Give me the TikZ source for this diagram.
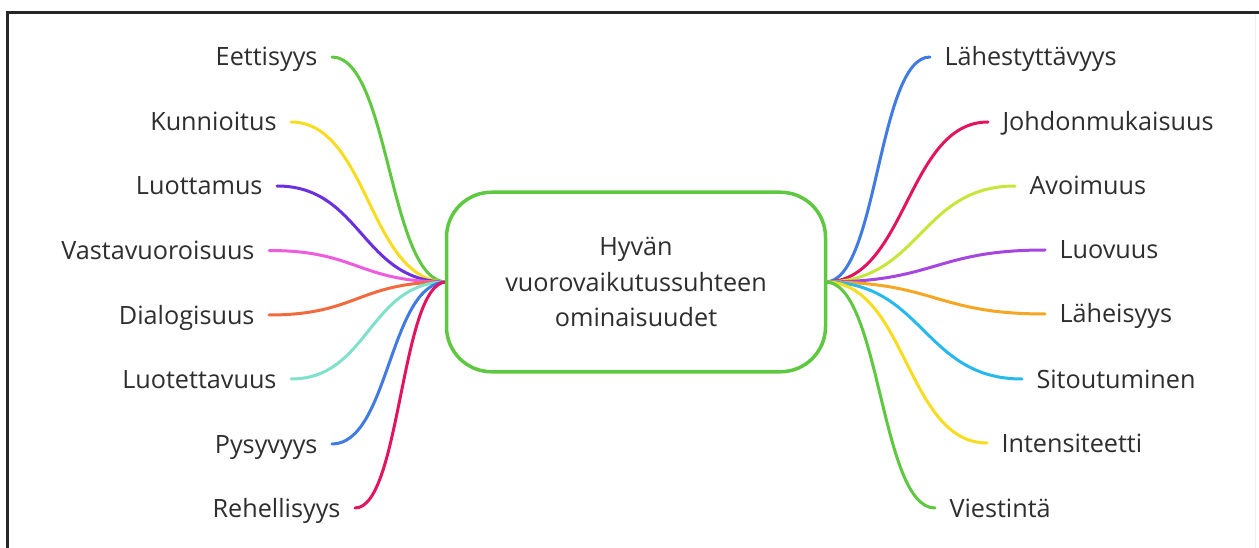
\documentclass[tikz,border=0pt]{standalone}
\usepackage{fontspec}
\setmainfont{Open Sans}
\usetikzlibrary{calc}
\definecolor{txt}{HTML}{2E2E2E}
\definecolor{cgreen}{HTML}{5EC840}
\definecolor{cyellow}{HTML}{F7DC1F}
\definecolor{cpurple}{HTML}{6A30E0}
\definecolor{cpink}{HTML}{EE5BDC}
\definecolor{corange}{HTML}{F06A3E}
\definecolor{caqua}{HTML}{7FE0CB}
\definecolor{cblue}{HTML}{3F7BE0}
\definecolor{ccrimson}{HTML}{E2145F}
\definecolor{clime}{HTML}{C8E63A}
\definecolor{cviolet}{HTML}{A745E0}
\definecolor{camber}{HTML}{F5A623}
\definecolor{csky}{HTML}{27B9EC}
\tikzset{
  lbl/.style={text=txt, font=\fontsize{25.2}{29}\selectfont, inner xsep=14.5pt, inner ysep=0pt, outer sep=0pt, text height=18pt, text depth=0pt},
  lleft/.style={lbl, anchor=east},
  lright/.style={lbl, anchor=west},
  branch/.style={line width=3pt, line cap=round},
  sc/.style={to path={let \p1=(\tikztostart), \p2=(\tikztotarget) in
     .. controls ({(\x1+\x2)/2},\y1) and ({(\x1+\x2)/2},\y2) .. (\tikztotarget)}},
}
\begin{document}
\begin{tikzpicture}[x=1pt,y=-1pt]
\useasboundingbox (0,0) rectangle (1259,548);
\fill[white] (0,0) rectangle (1259,548);
% frame
\draw[line width=3pt, black!85] (7.5,560) -- (7.5,12.5) -- (1275,12.5);
\draw[line width=1pt, black!6] (1255.5,14) -- (1255.5,560);
% centre
\node[draw=none, minimum width=379pt, minimum height=179.5pt, outer sep=0pt] (c) at (636,282) {};
\coordinate (hubL) at (c.west);
\coordinate (hubR) at (c.east);
% left labels
\node[lleft] (l1) at (332,57) {Eettisyys};
\node[lleft] (l2) at (291,122) {Kunnioitus};
\node[lleft] (l3) at (277,186) {Luottamus};
\node[lleft] (l4) at (269,250.5) {Vastavuoroisuus};
\node[lleft] (l5) at (269,315) {Dialogisuus};
\node[lleft] (l6) at (291,379) {Luotettavuus};
\node[lleft] (l7) at (332,444) {Pysyvyys};
\node[lleft] (l8) at (355,508) {Rehellisyys};
% right labels
\node[lright] (r1) at (930,57) {Lähestyttävyys};
\node[lright] (r2) at (988,122) {Johdonmukaisuus};
\node[lright] (r3) at (1015,186) {Avoimuus};
\node[lright] (r4) at (1045,250) {Luovuus};
\node[lright] (r5) at (1045,314) {Läheisyys};
\node[lright] (r6) at (1022,379) {Sitoutuminen};
\node[lright] (r7) at (987,443) {Intensiteetti};
\node[lright] (r8) at (935,508) {Viestintä};
% branches left
\draw[branch, cgreen] (l1.east) to[sc] (hubL);
\draw[branch, cyellow] (l2.east) to[sc] (hubL);
\draw[branch, cpurple] (l3.east) to[sc] (hubL);
\draw[branch, cpink] (l4.east) to[sc] (hubL);
\draw[branch, corange] (l5.east) to[sc] (hubL);
\draw[branch, caqua] (l6.east) to[sc] (hubL);
\draw[branch, cblue] (l7.east) to[sc] (hubL);
\draw[branch, ccrimson] (l8.east) to[sc] (hubL);
% branches right
\draw[branch, cblue] (hubR) to[sc] (r1.west);
\draw[branch, ccrimson] (hubR) to[sc] (r2.west);
\draw[branch, clime] (hubR) to[sc] (r3.west);
\draw[branch, cviolet] (hubR) to[sc] (r4.west);
\draw[branch, camber] (hubR) to[sc] (r5.west);
\draw[branch, csky] (hubR) to[sc] (r6.west);
\draw[branch, cyellow] (hubR) to[sc] (r7.west);
\draw[branch, cgreen] (hubR) to[sc] (r8.west);
% centre box on top
\node[draw=cgreen, fill=white, line width=3.5pt, rounded corners=45pt, minimum width=379pt, minimum height=179.5pt, align=center, text=txt, font=\fontsize{25.2}{35.5}\selectfont] (box) at (c) {Hyvän\\vuorovaikutussuhteen\\ominaisuudet};
\end{tikzpicture}
\end{document}
